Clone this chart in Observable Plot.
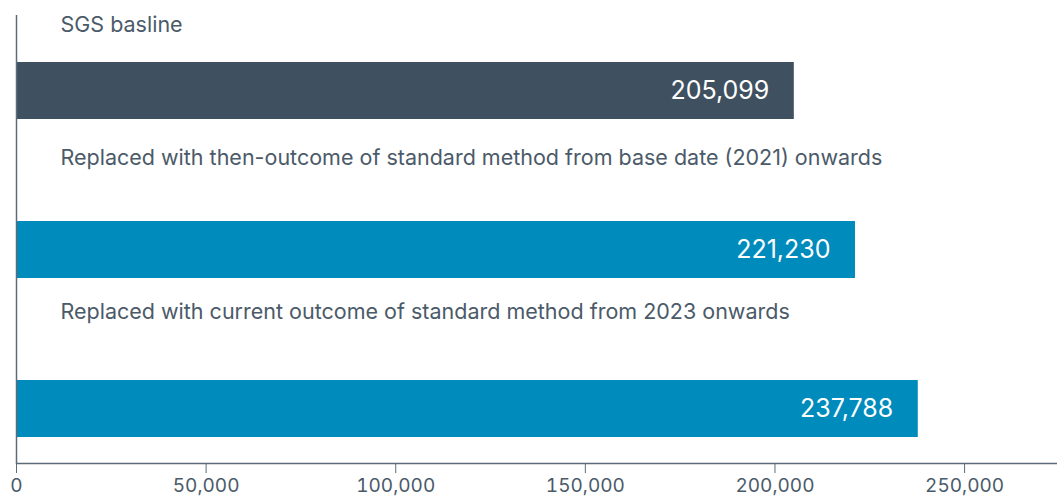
<!DOCTYPE html>
<html>
<head>
<meta charset="utf-8">
<script src="https://cdn.jsdelivr.net/npm/d3@7"></script>
<script src="https://cdn.jsdelivr.net/npm/@observablehq/plot@0.6"></script>
<style>
  html, body { margin: 0; padding: 0; background: #fff; }
  #chart svg { display: block; font-family: Inter, "Noto Sans", sans-serif; }
</style>
</head>
<body>
<div id="chart"></div>
<script>
const categories = [
  "SGS basline",
  "Replaced with then-outcome of standard method from base date (2021) onwards",
  "Replaced with current outcome of standard method from 2023 onwards"
];
const values = [205099, 221230, 237788];
const barColors = ["#3f5161", "#008bbd", "#008bbd"];
const xTicks = [0, 50000, 100000, 150000, 200000, 250000];

const table = categories.map((c, i) => ({category: c, value: values[i], color: barColors[i]}));
const fmt = d3.format(",");
const textColor = "#4b5a69";
const lineColor = "#5b6b79";
const labelOffsets = [-65.5, -91.5, -96.5];

const chart = Plot.plot({
  width: 1057,
  height: 496,
  marginLeft: 16,
  marginRight: 0,
  marginTop: 35,
  marginBottom: 33,
  x: {domain: [0, 274500]},
  y: {domain: categories, axis: null, paddingInner: 0.643, paddingOuter: 0.163},
  marks: [
    Plot.barX(table, {x: "value", y: "category", fill: "color"}),
    ...table.map((d, i) => Plot.text([d], {
      x: 0, y: "category", text: "category", dx: 44, dy: labelOffsets[i],
      textAnchor: "start", fontSize: 21.5, fill: textColor
    })),
    Plot.text(table, {
      x: "value", y: "category", text: d => fmt(d.value), dx: -25,
      textAnchor: "end", fontSize: 25, fill: "white"
    }),
    Plot.ruleX([0], {stroke: lineColor, strokeWidth: 1.5, insetTop: -20}),
    Plot.frame({anchor: "bottom", stroke: lineColor, strokeWidth: 1.5}),
    Plot.axisX({ticks: xTicks, tickFormat: fmt, tickSize: 10, tickPadding: 5,
      stroke: lineColor, fill: textColor, fontSize: 19, label: null})
  ]
});
document.getElementById("chart").append(chart);
</script>
</body>
</html>
